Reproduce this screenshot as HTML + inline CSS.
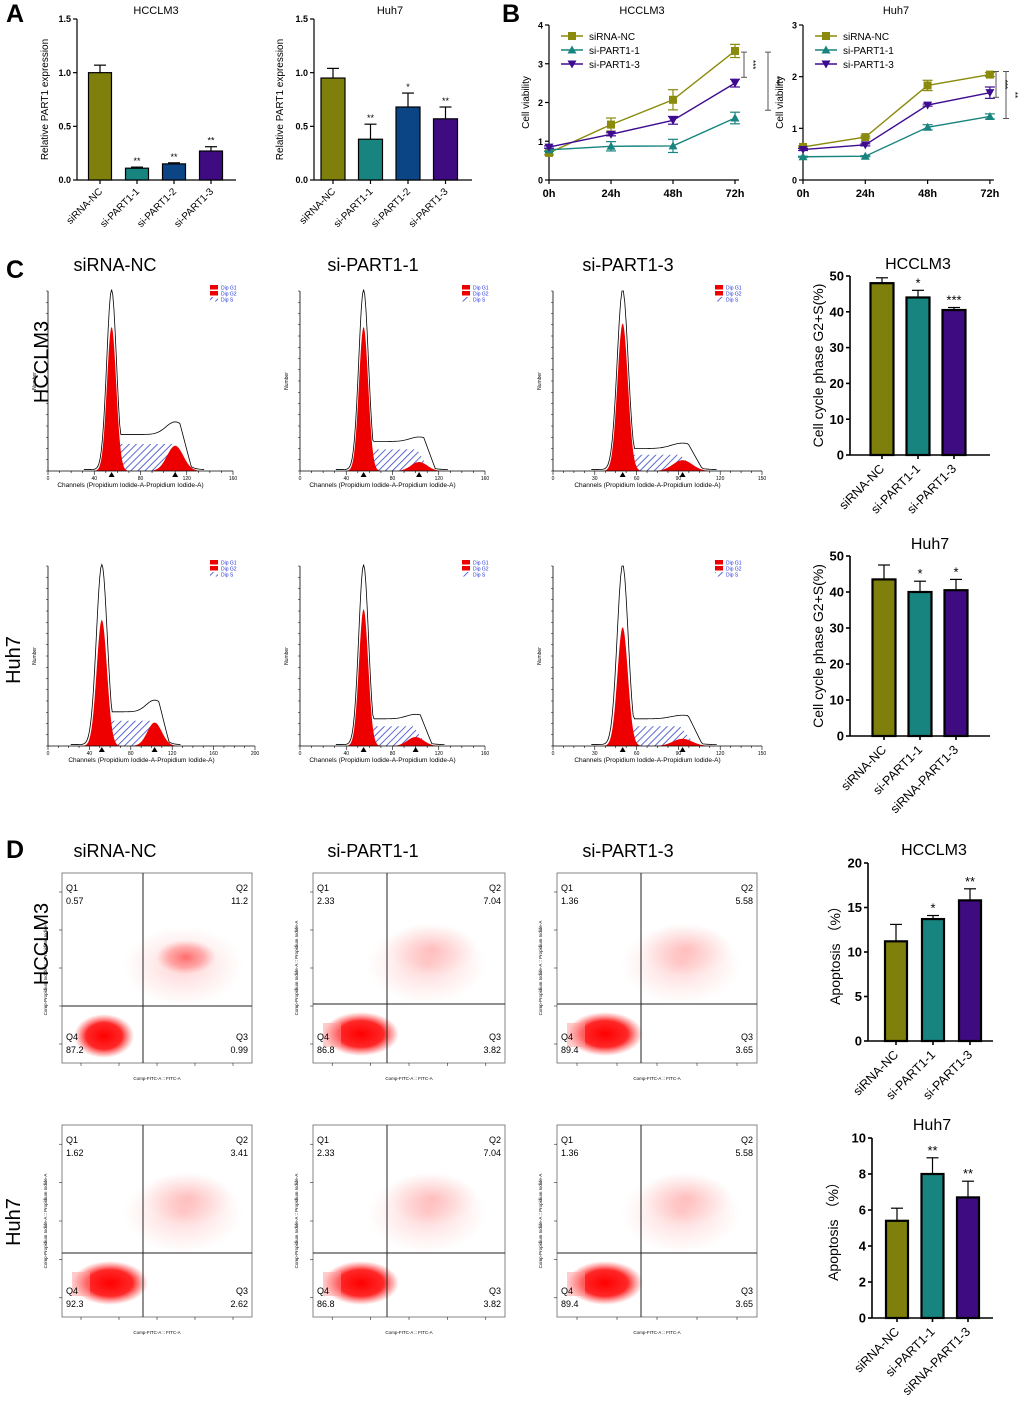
<!DOCTYPE html>
<html><head><meta charset="utf-8"><style>
html,body{margin:0;padding:0;background:#fff}
svg{display:block;font-family:"Liberation Sans",Arial,sans-serif}
</style></head><body>
<svg id="fig" width="1020" height="1411" viewBox="0 0 1020 1411" xmlns="http://www.w3.org/2000/svg">
<defs>
<pattern id="hatch" patternUnits="userSpaceOnUse" width="5" height="5" patternTransform="rotate(45)">
<rect width="5" height="5" fill="#fff"/><line x1="0" y1="0" x2="0" y2="5" stroke="#3344cc" stroke-width="1.6"/></pattern>
<radialGradient id="dotg"><stop offset="0" stop-color="#ff0000" stop-opacity="1"/><stop offset="0.6" stop-color="#ff1010" stop-opacity="0.9"/><stop offset="1" stop-color="#ff4040" stop-opacity="0"/></radialGradient>
<radialGradient id="dotm"><stop offset="0" stop-color="#ff2020" stop-opacity="0.6"/><stop offset="0.6" stop-color="#ff4040" stop-opacity="0.35"/><stop offset="1" stop-color="#ff6060" stop-opacity="0"/></radialGradient>
<radialGradient id="dotl"><stop offset="0" stop-color="#ff3030" stop-opacity="0.22"/><stop offset="1" stop-color="#ff6060" stop-opacity="0"/></radialGradient>
</defs>
</svg>
<script>
// ---------- data ----------
const aCats=["siRNA-NC","si-PART1-1","si-PART1-2","si-PART1-3"];
const aHccVals=[1.0,0.11,0.15,0.27];
const aHccErr=[0.07,0.01,0.01,0.04];
const aHccStars=["","**","**","**"];
const aHuhVals=[0.95,0.38,0.68,0.57];
const aHuhErr=[0.09,0.14,0.13,0.11];
const aHuhStars=["","**","*","**"];
const aTicks=["0.0","0.5","1.0","1.5"];
const bTimes=["0h","24h","48h","72h"];
const bSeries=["siRNA-NC","si-PART1-1","si-PART1-3"];
const bHccNC=[0.7,1.43,2.07,3.33];
const bHccP1=[0.78,0.87,0.88,1.6];
const bHccP3=[0.85,1.18,1.54,2.5];
const bHccErrNC=[0.05,0.17,0.26,0.17];
const bHccErrP1=[0.04,0.12,0.17,0.15];
const bHccErrP3=[0.03,0.04,0.1,0.1];
const bHuhNC=[0.64,0.83,1.83,2.04];
const bHuhP1=[0.45,0.46,1.02,1.23];
const bHuhP3=[0.59,0.68,1.45,1.69];
const bHuhErrNC=[0.02,0.02,0.1,0.04];
const bHuhErrP1=[0.01,0.01,0.05,0.05];
const bHuhErrP3=[0.02,0.02,0.02,0.11];
const cCatsA=["siRNA-NC","si-PART1-1","si-PART1-3"];
const cCatsB=["siRNA-NC","si-PART1-1","siRNA-PART1-3"];
const cHccVals=[48,44,40.5];
const cHccErr=[1.5,2,0.7];
const cHccStars=["","*","***"];
const cHuhVals=[43.5,40,40.5];
const cHuhErr=[4,3,3];
const cHuhStars=["","*","*"];
const cTicks=["0","10","20","30","40","50"];
const dHccVals=[11.2,13.7,15.8];
const dHccErr=[1.9,0.4,1.3];
const dHccStars=["","*","**"];
const dTicksA=["0","5","10","15","20"];
const dHuhVals=[5.4,8.0,6.7];
const dHuhErr=[0.7,0.9,0.9];
const dHuhStars=["","**","**"];
const dTicksB=["0","2","4","6","8","10"];
const qHcc=[["0.57","11.2","0.99","87.2"],["2.33","7.04","3.82","86.8"],["1.36","5.58","3.65","89.4"]];
const qHuh=[["1.62","3.41","2.62","92.3"],["2.33","7.04","3.82","86.8"],["1.36","5.58","3.65","89.4"]];
const colors=["#7f7f0c","#18847f","#0c4585","#3e0b80"];
const colors3=["#7f7f0c","#18847f","#3e0b80"];

const svg=document.getElementById('fig');
const NS="http://www.w3.org/2000/svg";
function el(tag,attrs,parent,txt){const e=document.createElementNS(NS,tag);for(const k in attrs)e.setAttribute(k,attrs[k]);if(txt!==undefined)e.textContent=txt;(parent||svg).appendChild(e);return e;}
function grp(name){const g=el('g',{});return g;}
function text(g,x,y,s,size,opt){opt=opt||{};const t=el('text',{x:x,y:y,'font-size':size,'text-anchor':opt.anchor||'middle',fill:opt.fill||'#000','font-weight':opt.bold?'bold':'normal'},g,s);if(opt.rot)t.setAttribute('transform',`rotate(${opt.rot} ${x} ${y})`);return t;}

[["A",6,22],["B",502,22],["C",6,278],["D",6,858]].forEach(p=>{text(svg,p[1],p[2],p[0],25,{anchor:'start',bold:true,name:'panel-letter-'+p[0]});});

function barChart(o){
  const g=grp(o.name);
  const max=o.max;
  const yS=v=>o.y0-(v/max)*(o.y0-o.yTop);
  el('line',{x1:o.x0,y1:o.yTop,x2:o.x0,y2:o.y0,stroke:'#000','stroke-width':o.lw},g);
  el('line',{x1:o.x0,y1:o.y0,x2:o.xEnd,y2:o.y0,stroke:'#000','stroke-width':o.lw},g);
  o.ticks.forEach((t,i)=>{const v=parseFloat(t);const y=yS(v);
    el('line',{x1:o.x0-4,y1:y,x2:o.x0,y2:y,stroke:'#000','stroke-width':o.lw},g);
    text(g,o.x0-6,y+o.tf*0.35,t,o.tf,{anchor:'end',bold:true,name:'y-tick-label'});});
  o.vals.forEach((v,i)=>{const cx=o.c0+i*o.step;const y=yS(v);
    const eTop=yS(v+o.errs[i]);
    el('line',{x1:cx,y1:eTop,x2:cx,y2:y,stroke:'#000','stroke-width':1.2},g);
    el('line',{x1:cx-6,y1:eTop,x2:cx+6,y2:eTop,stroke:'#000','stroke-width':1.2},g);
    const r=el('rect',{x:cx-o.bw/2,y:y,width:o.bw,height:o.y0-y,fill:o.cols[i],stroke:'#000','stroke-width':o.blw},g);
    
    if(o.stars[i])text(g,cx,eTop-3,o.stars[i],o.sf,{name:'significance-stars'});
    el('line',{x1:cx,y1:o.y0,x2:cx,y2:o.y0+4,stroke:'#000','stroke-width':o.lw},g);
    text(g,cx+3,o.y0+o.lf+2,o.cats[i],o.lf,{anchor:'end',rot:-45,name:'x-tick-label'});
  });
  text(g,o.tx,o.ty,o.title,o.titf,{name:'chart-title'});
  text(g,o.yx,(o.yTop+o.y0)/2,o.ytitle,o.ytf,{rot:-90,name:'y-axis-title'});
}
barChart({name:'chart-a-hcclm3',x0:77,xEnd:236,y0:180,yTop:19,max:1.5,ticks:aTicks,vals:aHccVals,errs:aHccErr,stars:aHccStars,cats:aCats,cols:colors,c0:100,step:37,bw:23,lw:1.2,blw:1.2,tf:9,sf:9,lf:10,tx:156,ty:14,title:'HCCLM3',titf:11,yx:48,ytitle:'Relative PART1 expression',ytf:10});
barChart({name:'chart-a-huh7',x0:314,xEnd:472,y0:180,yTop:19,max:1.5,ticks:aTicks,vals:aHuhVals,errs:aHuhErr,stars:aHuhStars,cats:aCats,cols:colors,c0:333,step:37.5,bw:24,lw:1.2,blw:1.2,tf:9,sf:9,lf:10,tx:390,ty:14,title:'Huh7',titf:11,yx:283,ytitle:'Relative PART1 expression',ytf:10});
barChart({name:'chart-c-hcclm3',x0:850,xEnd:990,y0:455,yTop:276,max:50,ticks:cTicks,vals:cHccVals,errs:cHccErr,stars:cHccStars,cats:cCatsA,cols:colors3,c0:882,step:36,bw:23,lw:1.6,blw:2.2,tf:13,sf:13,lf:12.5,tx:918,ty:269,title:'HCCLM3',titf:16,yx:823,ytitle:'Cell cycle phase G2+S(%)',ytf:14});
barChart({name:'chart-c-huh7',x0:850,xEnd:990,y0:736,yTop:556,max:50,ticks:cTicks,vals:cHuhVals,errs:cHuhErr,stars:cHuhStars,cats:cCatsB,cols:colors3,c0:884,step:36,bw:23,lw:1.6,blw:2.2,tf:13,sf:13,lf:12.5,tx:930,ty:549,title:'Huh7',titf:16,yx:823,ytitle:'Cell cycle phase G2+S(%)',ytf:14});
barChart({name:'chart-d-hcclm3',x0:868,xEnd:993,y0:1041,yTop:863,max:20,ticks:dTicksA,vals:dHccVals,errs:dHccErr,stars:dHccStars,cats:cCatsA,cols:colors3,c0:896,step:37,bw:22,lw:1.6,blw:2.2,tf:13,sf:13,lf:12.5,tx:934,ty:855,title:'HCCLM3',titf:16,yx:840,ytitle:'Apoptosis （%）',ytf:14});
barChart({name:'chart-d-huh7',x0:872,xEnd:993,y0:1318,yTop:1138,max:10,ticks:dTicksB,vals:dHuhVals,errs:dHuhErr,stars:dHuhStars,cats:cCatsB,cols:colors3,c0:897,step:35.5,bw:22,lw:1.6,blw:2.2,tf:13,sf:13,lf:12.5,tx:932,ty:1130,title:'Huh7',titf:16,yx:838,ytitle:'Apoptosis （%）',ytf:14});

function marker(g,k,x,y,c){
  if(k===0)el('rect',{x:x-4,y:y-4,width:8,height:8,fill:c},g);
  else if(k===1)el('polygon',{points:`${x},${y-4.5} ${x+4.5},${y+3.5} ${x-4.5},${y+3.5}`,fill:c},g);
  else el('polygon',{points:`${x},${y+4.5} ${x+4.5},${y-3.5} ${x-4.5},${y-3.5}`,fill:c},g);
}
function lineChart(o){
  const g=grp(o.name);
  const yS=v=>o.y0-(v/o.max)*(o.y0-o.yTop);
  const xS=i=>o.x0+i*o.step;
  el('line',{x1:o.x0,y1:o.yTop,x2:o.x0,y2:o.y0,stroke:'#000','stroke-width':1.2},g);
  el('line',{x1:o.x0,y1:o.y0,x2:xS(3)+4,y2:o.y0,stroke:'#000','stroke-width':1.2},g);
  for(let v=0;v<=o.max;v++){const y=yS(v);el('line',{x1:o.x0-4,y1:y,x2:o.x0,y2:y,stroke:'#000','stroke-width':1.2},g);text(g,o.x0-6,y+3.5,String(v),9,{anchor:'end',bold:true,name:'y-tick-label'});}
  bTimes.forEach((t,i)=>{el('line',{x1:xS(i),y1:o.y0,x2:xS(i),y2:o.y0+4,stroke:'#000','stroke-width':1.2},g);text(g,xS(i),o.y0+17,t,11,{bold:true,name:'x-tick-label'});});
  const cols=["#8a8a0c","#18847f","#3e0b90"];
  o.series.forEach((s,k)=>{
    const pts=s.map((v,i)=>xS(i)+','+yS(v)).join(' ');
    el('polyline',{points:pts,fill:'none',stroke:cols[k],'stroke-width':1.4},g);
    s.forEach((v,i)=>{const x=xS(i),y=yS(v),e=o.errs[k][i];
      el('line',{x1:x,y1:yS(v+e),x2:x,y2:yS(v-e),stroke:cols[k],'stroke-width':1.2},g);
      el('line',{x1:x-5,y1:yS(v+e),x2:x+5,y2:yS(v+e),stroke:cols[k],'stroke-width':1.2},g);
      el('line',{x1:x-5,y1:yS(v-e),x2:x+5,y2:yS(v-e),stroke:cols[k],'stroke-width':1.2},g);
      marker(g,k,x,y,cols[k]);});
    const ly=o.yTop+11+k*14;
    el('line',{x1:o.x0+12,y1:ly,x2:o.x0+34,y2:ly,stroke:cols[k],'stroke-width':1.4},g);
    marker(g,k,o.x0+23,ly,cols[k]);
    text(g,o.x0+40,ly+4,bSeries[k],10,{anchor:'start',name:'legend-entry'});
  });
  o.brackets.forEach(b=>{const x=b[0];el('line',{x1:x,y1:yS(b[1]),x2:x,y2:yS(b[2]),stroke:'#555','stroke-width':1},g);
    el('line',{x1:x-3,y1:yS(b[1]),x2:x+3,y2:yS(b[1]),stroke:'#555'},g);el('line',{x1:x-3,y1:yS(b[2]),x2:x+3,y2:yS(b[2]),stroke:'#555'},g);
    text(g,x+6,(yS(b[1])+yS(b[2]))/2,b[3],8,{rot:90,name:'significance-stars'});});
  text(g,o.tx,14,o.title,11,{name:'chart-title'});
  text(g,o.x0-20,(o.yTop+o.y0)/2,'Cell viability',10,{rot:-90,name:'y-axis-title'});
}
lineChart({name:'chart-b-hcclm3',x0:549,step:62,y0:180,yTop:25,max:4,series:[bHccNC,bHccP1,bHccP3],errs:[bHccErrNC,bHccErrP1,bHccErrP3],brackets:[[744,3.3,2.65,'***'],[768,3.3,1.8,'***']],tx:642,title:'HCCLM3'});
lineChart({name:'chart-b-huh7',x0:803,step:62.3,y0:180,yTop:25,max:3,series:[bHuhNC,bHuhP1,bHuhP3],errs:[bHuhErrNC,bHuhErrP1,bHuhErrP3],brackets:[[996,2.1,1.6,'***'],[1006,2.1,1.19,'**']],tx:896,title:'Huh7'});

[["siRNA-NC",115],["si-PART1-1",373],["si-PART1-3",628]].forEach(h=>{text(svg,h[1],271,h[0],18,{name:'column-header'});text(svg,h[1],857,h[0],18,{name:'column-header'});});
text(svg,48,362,'HCCLM3',20,{rot:-90,name:'row-label-hcclm3'});
text(svg,20,660,'Huh7',20,{rot:-90,name:'row-label-huh7'});
text(svg,48,944,'HCCLM3',20,{rot:-90,name:'row-label-hcclm3'});
text(svg,20,1222,'Huh7',20,{rot:-90,name:'row-label-huh7'});

// Histograms: [originX, axisY, width, xmax, g1c, g1h, sLevel, g2c, g2h, tickStep]
const hParams=[[48,471,185,160,55,0.8,0.15,110,0.14,40],[300,471,185,160,55,0.8,0.12,103,0.05,40],[553,471,209,150,50,0.82,0.09,93,0.06,30],
               [48,746,207,200,52,0.7,0.14,103,0.13,40],[300,746,185,160,55,0.76,0.11,100,0.05,40],[553,746,209,150,50,0.66,0.11,93,0.04,30]];
const gauss=(c,m,s,h)=>h*Math.exp(-((c-m)*(c-m))/(2*s*s));
hParams.forEach((p,idx)=>{
  const g=grp('dna-histogram-'+(idx+1));
  const [ox,oy,w,xm,c1,h1,sl,c2,h2,ts]=p;const H=180;
  const xS=c=>ox+c/xm*w, yS=f=>oy-f*H;
  const s1=xm/40;
  let g1=[],g2=[],sp=[],out=[];
  for(let c=c1-4*s1;c<=c1+4*s1;c+=0.5)g1.push(xS(c)+','+yS(gauss(c,c1,s1,h1)));
  for(let c=c2-22;c<=c2+22;c+=0.5)g2.push(xS(c)+','+yS(gauss(c,c2,7,h2)));
  for(let c=c1-3;c<=c2+10;c+=1){let f=sl*Math.min(1,Math.max(0,(c-c1+3)/8))*Math.min(1,Math.max(0,(c2+10-c)/12));sp.push(xS(c)+','+yS(f));}
  el('polygon',{points:xS(c1-3)+','+oy+' '+sp.join(' ')+' '+xS(c2+10)+','+oy,fill:'url(#hatch)',stroke:'none'},g);
  el('polygon',{points:g1.join(' '),fill:'#ee0000'},g);
  el('polygon',{points:g2.join(' '),fill:'#ee0000'},g);
  for(let c=c1-6*s1;c<=c2+25;c+=1){
    let sBase=sl*1.3*Math.min(1,Math.max(0,(c-c1+2)/6))*Math.min(1,Math.max(0,(c2+14-c)/10));
    let f=Math.max(gauss(c,c1,s1*1.05,1.0),sBase+gauss(c,c2,8,h2*0.5))+0.008;
    out.push(xS(c)+','+yS(Math.min(f,1.02)));}
  el('polyline',{points:out.join(' '),fill:'none',stroke:'#000','stroke-width':0.8},g);
  el('line',{x1:ox,y1:oy,x2:ox+w,y2:oy,stroke:'#000','stroke-width':0.8},g);
  el('line',{x1:ox,y1:oy,x2:ox,y2:oy-H,stroke:'#000','stroke-width':0.8},g);
  for(let c=0;c<=xm;c+=ts/4){el('line',{x1:xS(c),y1:oy,x2:xS(c),y2:oy+(c%ts===0?4:2),stroke:'#000','stroke-width':0.6},g);}
  for(let c=0;c<=xm;c+=ts)text(g,xS(c),oy+9,String(c),5,{name:'x-tick-label'});
  for(let k=0;k<=16;k++)el('line',{x1:ox-2,y1:oy-k*H/16,x2:ox,y2:oy-k*H/16,stroke:'#000','stroke-width':0.5},g);
  el('polygon',{points:`${xS(c1)-3},${oy+6} ${xS(c1)+3},${oy+6} ${xS(c1)},${oy+1}`,fill:'#000'},g);
  el('polygon',{points:`${xS(c2)-3},${oy+6} ${xS(c2)+3},${oy+6} ${xS(c2)},${oy+1}`,fill:'#000'},g);
  text(g,ox+w/2-10,oy+16,'Channels (Propidium Iodide-A-Propidium Iodide-A)',6.5,{name:'x-axis-title'});
  text(g,ox-12,oy-H/2,'Number',5,{rot:-90,name:'y-axis-title'});
  const lx=ox+162,ly=oy-186;
  el('rect',{x:lx,y:ly,width:8,height:4.5,fill:'#ee0000'},g);el('rect',{x:lx,y:ly+6,width:8,height:4.5,fill:'#ee0000'},g);el('rect',{x:lx,y:ly+12,width:8,height:4.5,fill:'url(#hatch)'},g);
  ['Dip G1','Dip G2','Dip S'].forEach((s,i)=>text(g,lx+11,ly+4.5+i*6,s,5,{anchor:'start',fill:'#2233dd',name:'legend-entry'}));
});

const fBoxes=[[62,873,190,190,143,1006,qHcc[0],0],[313,873,192,190,387,1004,qHcc[1],1],[557,873,200,190,641,1004,qHcc[2],1],
              [62,1125,190,192,143,1253,qHuh[0],1],[313,1125,192,192,387,1253,qHuh[1],1],[557,1125,200,192,641,1253,qHuh[2],1]];
fBoxes.forEach((b,idx)=>{
  const g=grp('flow-dotplot-'+(idx+1));
  const [x,y,w,h,vx,hy,q,t]=b;
  el('rect',{x:x,y:y,width:w,height:h,fill:'#fff',stroke:'#666','stroke-width':0.8},g);
  el('ellipse',{cx:vx+40,cy:hy-40,rx:60,ry:40,fill:'url(#dotl)'},g);
  if(t===0){el('ellipse',{cx:vx+43,cy:hy-49,rx:30,ry:17,fill:'url(#dotm)'},g);}
  else{el('ellipse',{cx:vx+45,cy:hy-55,rx:45,ry:26,fill:'url(#dotl)'},g);}
  el('ellipse',{cx:x+(t===0?42:48),cy:hy+30,rx:t===0?30:38,ry:22,fill:'url(#dotg)'},g);
  if(t===1)el('rect',{x:x+10,y:hy+19,width:18,height:24,fill:'#ff9a9a',opacity:0.5},g);
  el('line',{x1:vx,y1:y,x2:vx,y2:y+h,stroke:'#222','stroke-width':1},g);
  el('line',{x1:x,y1:hy,x2:x+w,y2:hy,stroke:'#222','stroke-width':1},g);
  text(g,x+4,y+18,'Q1',9,{anchor:'start',name:'quadrant-label'});text(g,x+4,y+31,q[0],9,{anchor:'start',name:'quadrant-value'});
  text(g,x+w-4,y+18,'Q2',9,{anchor:'end',name:'quadrant-label'});text(g,x+w-4,y+31,q[1],9,{anchor:'end',name:'quadrant-value'});
  text(g,x+w-4,y+h-23,'Q3',9,{anchor:'end',name:'quadrant-label'});text(g,x+w-4,y+h-10,q[2],9,{anchor:'end',name:'quadrant-value'});
  text(g,x+4,y+h-23,'Q4',9,{anchor:'start',name:'quadrant-label'});text(g,x+4,y+h-10,q[3],9,{anchor:'start',name:'quadrant-value'});
  text(g,x+w/2,y+h+17,'Comp-FITC-A :: FITC-A',4.5,{name:'x-axis-title'});
  text(g,x-15,y+h/2,'Comp-Propidium Iodide-A :: Propidium Iodide-A',4.5,{rot:-90,name:'y-axis-title'});
  [0.1,0.3,0.5,0.7,0.9].forEach(f=>{el('line',{x1:x+f*w,y1:y+h,x2:x+f*w,y2:y+h+3,stroke:'#000','stroke-width':0.5},g);el('line',{x1:x-3,y1:y+f*h,x2:x,y2:y+f*h,stroke:'#000','stroke-width':0.5},g);});
});
</script>
</body></html>
